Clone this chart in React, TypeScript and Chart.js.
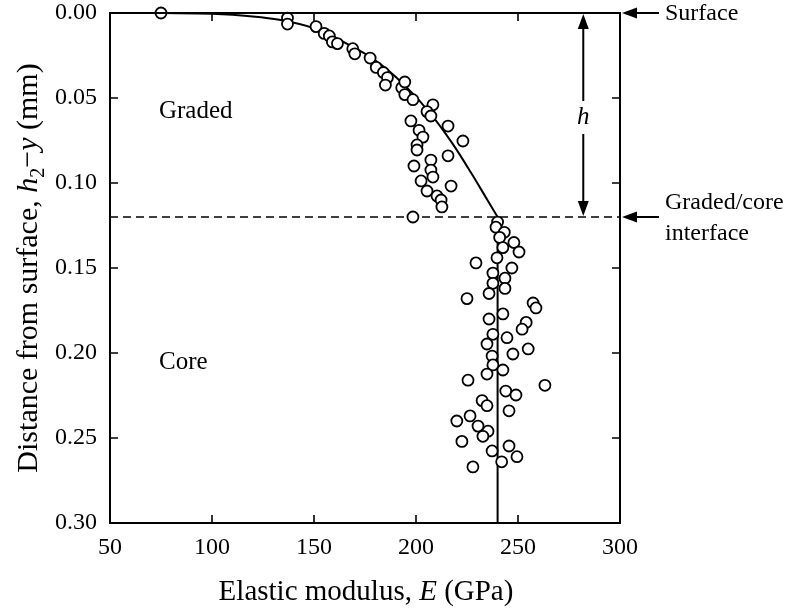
import { useEffect, useRef } from "react";
import { Chart, registerables } from "chart.js";

Chart.register(...registerables);

// Measured data points: elastic modulus (GPa) and depth from surface (mm)
const modulusGPa = [
  75, 137, 137, 151, 155, 157.5, 159, 161.5, 169, 170, 177.5, 180.5, 184, 186, 185, 193, 194.5, 194.5, 198.5,
  208.3, 205.4, 207.3, 197.5, 215.7, 201.5, 203.4, 200.5, 200.5, 223, 215.7, 207.3, 199, 207.3, 208.3, 202.5,
  217.2, 205.4, 210.3, 212.3, 212.7, 198.5, 240, 239.2, 243.3, 241, 248, 242.6, 250.5, 239.7, 229.4, 247,
  237.7, 243.6, 237.7, 243.6, 235.8, 225, 257.4, 258.8, 242.6, 235.8, 254, 252, 237.7, 244.6, 234.8, 255,
  237.3, 247.5, 237.7, 242.6, 234.8, 225.5, 263.2, 244, 249, 232.4, 234.8, 245.6, 226.5, 220, 230.4, 235.3,
  232.8, 222.5, 245.6, 237.3, 249.5, 242, 227.9,
];
const depthMm = [
  0.0, 0.003, 0.0065, 0.008, 0.012, 0.0135, 0.017, 0.018, 0.021, 0.024, 0.0265, 0.032, 0.035, 0.038, 0.0424,
  0.044, 0.0406, 0.048, 0.051, 0.054, 0.058, 0.0606, 0.0635, 0.0665, 0.069, 0.073, 0.0776, 0.0806, 0.0753,
  0.084, 0.0865, 0.09, 0.0924, 0.0965, 0.0988, 0.1018, 0.1047, 0.1076, 0.11, 0.1141, 0.12, 0.123, 0.126,
  0.129, 0.132, 0.135, 0.138, 0.1406, 0.144, 0.147, 0.15, 0.153, 0.156, 0.159, 0.162, 0.165, 0.168, 0.1706,
  0.1735, 0.177, 0.18, 0.182, 0.186, 0.189, 0.191, 0.1947, 0.1976, 0.2018, 0.2006, 0.207, 0.21, 0.2124,
  0.216, 0.219, 0.2224, 0.2247, 0.228, 0.231, 0.234, 0.237, 0.24, 0.243, 0.246, 0.249, 0.252, 0.2547,
  0.2576, 0.261, 0.264, 0.267,
];

// Graded-layer fit curve
const fitModulus = [75, 100, 120, 133, 150, 166, 179, 194, 207, 218, 227, 235, 240];
const fitDepth = [0, 0.0004, 0.002, 0.004, 0.009, 0.018, 0.027, 0.042, 0.059, 0.077, 0.094, 0.11, 0.12];

// Core (constant modulus)
const coreModulus = [240, 240];
const coreDepth = [0.12, 0.3];

const xTickValues = [50, 100, 150, 200, 250, 300];
const yTickValues = [0, 0.05, 0.1, 0.15, 0.2, 0.25, 0.3];
const interfaceDepth = 0.12;
const hArrowModulus = 282;

const SERIF = '"Liberation Serif", "Times New Roman", serif';

function drawArrowHead(ctx: CanvasRenderingContext2D, tx: number, ty: number, dx: number, dy: number) {
  const len = 15;
  const half = 5.5;
  const bx = tx + dx * len;
  const by = ty + dy * len;
  const px = -dy;
  const py = dx;
  ctx.beginPath();
  ctx.moveTo(tx, ty);
  ctx.lineTo(bx + px * half, by + py * half);
  ctx.lineTo(bx - px * half, by - py * half);
  ctx.closePath();
  ctx.fill();
}

function drawPieces(
  ctx: CanvasRenderingContext2D,
  pieces: { t: string; italic?: boolean; sub?: boolean }[],
  size: number,
  cx: number,
  baseline: number
) {
  const fontFor = (p: { italic?: boolean; sub?: boolean }) =>
    `${p.italic ? "italic " : ""}${p.sub ? Math.round(size * 0.65) : size}px ${SERIF}`;
  let total = 0;
  const widths = pieces.map((p) => {
    ctx.font = fontFor(p);
    const w = ctx.measureText(p.t).width;
    total += w;
    return w;
  });
  let x = cx - total / 2;
  ctx.textAlign = "left";
  ctx.textBaseline = "alphabetic";
  pieces.forEach((p, i) => {
    ctx.font = fontFor(p);
    ctx.fillText(p.t, x, baseline + (p.sub ? size * 0.22 : 0));
    x += widths[i];
  });
}

const decorPlugin = {
  id: "decor",
  beforeDatasetsDraw(chart: any) {
    const ctx = chart.ctx as CanvasRenderingContext2D;
    const { left, right } = chart.chartArea;
    const ys = chart.scales.y;
    const yi = ys.getPixelForValue(interfaceDepth);
    ctx.save();
    ctx.strokeStyle = "#000";
    ctx.lineWidth = 1.6;
    ctx.setLineDash([8, 5]);
    ctx.beginPath();
    ctx.moveTo(left, yi);
    ctx.lineTo(right, yi);
    ctx.stroke();
    ctx.restore();
  },
  afterDraw(chart: any) {
    const ctx = chart.ctx as CanvasRenderingContext2D;
    const { left, right, top, bottom } = chart.chartArea;
    const xs = chart.scales.x;
    const ys = chart.scales.y;
    ctx.save();
    ctx.strokeStyle = "#000";
    ctx.fillStyle = "#000";
    ctx.lineWidth = 2;
    ctx.strokeRect(left, top, right - left, bottom - top);
    ctx.lineWidth = 1.6;
    ctx.beginPath();
    xTickValues.forEach((v) => {
      const px = xs.getPixelForValue(v);
      ctx.moveTo(px, bottom);
      ctx.lineTo(px, bottom - 8);
      ctx.moveTo(px, top);
      ctx.lineTo(px, top + 8);
    });
    yTickValues.forEach((v) => {
      const py = ys.getPixelForValue(v);
      ctx.moveTo(left, py);
      ctx.lineTo(left + 8, py);
      ctx.moveTo(right, py);
      ctx.lineTo(right - 8, py);
    });
    ctx.stroke();

    // Surface / interface arrows
    const ySurf = ys.getPixelForValue(0);
    const yInt = ys.getPixelForValue(interfaceDepth);
    ctx.lineWidth = 2;
    [ySurf, yInt].forEach((py) => {
      ctx.beginPath();
      ctx.moveTo(right + 14, py);
      ctx.lineTo(right + 39, py);
      ctx.stroke();
      drawArrowHead(ctx, right + 2, py, 1, 0);
    });

    // h double arrow
    const hx = xs.getPixelForValue(hArrowModulus);
    ctx.beginPath();
    ctx.moveTo(hx, ySurf + 14);
    ctx.lineTo(hx, ySurf + 88);
    ctx.moveTo(hx, ySurf + 121);
    ctx.lineTo(hx, yInt - 14);
    ctx.stroke();
    drawArrowHead(ctx, hx, ySurf + 1, 0, 1);
    drawArrowHead(ctx, hx, yInt - 1, 0, -1);

    ctx.textBaseline = "middle";
    ctx.textAlign = "center";
    ctx.font = `italic 25px ${SERIF}`;
    ctx.fillText("h", hx, ySurf + 104);

    ctx.textAlign = "left";
    ctx.font = `24px ${SERIF}`;
    ctx.fillText("Surface", right + 45, ySurf + 1);
    ctx.fillText("Graded/core", right + 45, yInt - 14);
    ctx.fillText("interface", right + 45, yInt + 17);

    ctx.font = `25px ${SERIF}`;
    ctx.fillText("Graded", xs.getPixelForValue(74), ys.getPixelForValue(0.058));
    ctx.fillText("Core", xs.getPixelForValue(74), ys.getPixelForValue(0.2058));

    // Axis titles
    drawPieces(
      ctx,
      [{ t: "Elastic modulus, " }, { t: "E", italic: true }, { t: " (GPa)" }],
      29,
      (left + right) / 2 + 1,
      600
    );
    ctx.save();
    ctx.translate(37, (top + bottom) / 2);
    ctx.rotate(-Math.PI / 2);
    drawPieces(
      ctx,
      [
        { t: "Distance from surface, " },
        { t: "h", italic: true },
        { t: "2", sub: true },
        { t: "\u2212" },
        { t: "y", italic: true },
        { t: " (mm)" },
      ],
      30,
      0,
      0
    );
    ctx.restore();
    ctx.restore();
  },
};

export default function App() {
  const canvasRef = useRef<HTMLCanvasElement | null>(null);

  useEffect(() => {
    document.body.style.margin = "0";
    const canvas = canvasRef.current;
    if (!canvas) return;
    const points = modulusGPa.map((x, i) => ({ x, y: depthMm[i] }));
    const fit = fitModulus.map((x, i) => ({ x, y: fitDepth[i] }));
    const core = coreModulus.map((x, i) => ({ x, y: coreDepth[i] }));

    const chart = new Chart(canvas, {
      type: "scatter",
      data: {
        datasets: [
          {
            label: "Measured",
            data: points,
            pointRadius: 5.5,
            pointBorderWidth: 1.8,
            pointBorderColor: "#000",
            pointBackgroundColor: "#fff",
            showLine: false,
            clip: false as any,
            order: 0,
          },
          {
            label: "Graded fit",
            data: fit,
            showLine: true,
            pointRadius: 0,
            borderColor: "#000",
            borderWidth: 2,
            cubicInterpolationMode: "monotone",
            clip: false as any,
            order: 1,
          },
          {
            label: "Core",
            data: core,
            showLine: true,
            pointRadius: 0,
            borderColor: "#000",
            borderWidth: 2,
            order: 2,
          },
        ],
      },
      options: {
        responsive: false,
        animation: false,
        devicePixelRatio: 1,
        layout: { padding: { top: 13, right: 167, left: 0, bottom: 0 } },
        plugins: { legend: { display: false }, tooltip: { enabled: false } },
        scales: {
          x: {
            type: "linear",
            min: 50,
            max: 300,
            grid: { display: false, drawTicks: false },
            border: { display: false },
            ticks: {
              stepSize: 50,
              padding: 10,
              color: "#000",
              font: { family: SERIF, size: 24 },
            },
            afterFit: (axis: any) => {
              axis.height = 86;
              axis.paddingLeft = 0;
              axis.paddingRight = 0;
            },
          },
          y: {
            type: "linear",
            reverse: true,
            min: 0,
            max: 0.3,
            grid: { display: false, drawTicks: false },
            border: { display: false },
            ticks: {
              stepSize: 0.05,
              padding: 13,
              color: "#000",
              font: { family: SERIF, size: 24 },
              callback: (v: any) => Number(v).toFixed(2),
            },
            afterFit: (axis: any) => {
              axis.width = 110;
              axis.paddingTop = 0;
              axis.paddingBottom = 0;
            },
          },
        },
      },
      plugins: [decorPlugin],
    });
    return () => chart.destroy();
  }, []);

  return (
    <div style={{ width: 787, height: 609 }}>
      <canvas ref={canvasRef} width={787} height={609} />
    </div>
  );
}
